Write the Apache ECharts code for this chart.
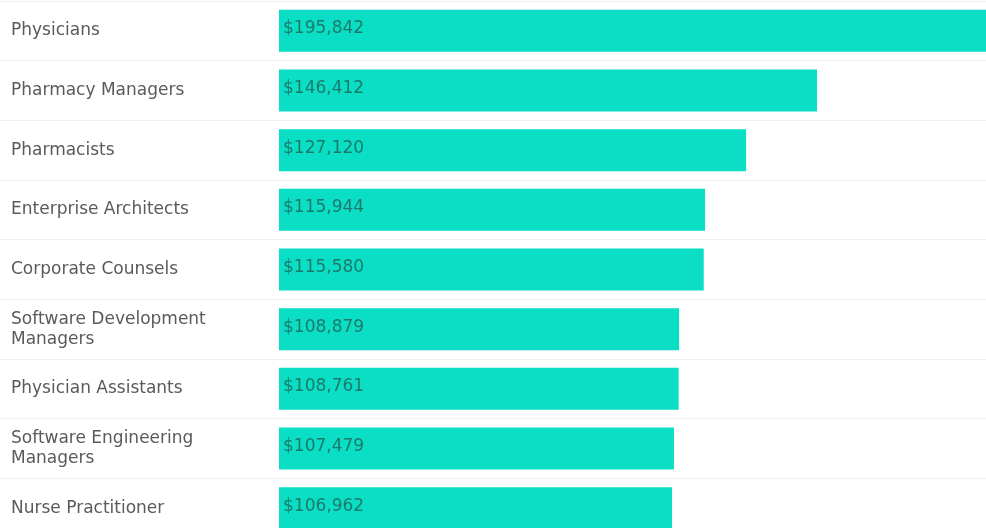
<!DOCTYPE html>
<html>
<head>
<meta charset="utf-8">
<script src="https://cdn.jsdelivr.net/npm/echarts@6/dist/echarts.min.js"></script>
<style>html,body{margin:0;padding:0;background:#fff;}#c{width:986px;height:528px;}</style>
</head>
<body>
<div id="c"></div>
<script>
const categories = ["Physicians","Pharmacy Managers","Pharmacists","Enterprise Architects","Corporate Counsels","Software Development Managers","Physician Assistants","Software Engineering Managers","Nurse Practitioner"];
const salaries = [195842,146412,127120,115944,115580,108879,108761,107479,106962];

const chart = echarts.init(document.getElementById('c'));
const font = 'DejaVu Sans';
chart.setOption({
  animation: false,
  grid: [
    {left: 279, width: 707, top: 1, height: 537, containLabel: false, outerBoundsMode: 'none'},
    {left: 0, width: 986, top: 1, height: 537, containLabel: false, outerBoundsMode: 'none'}
  ],
  xAxis: [
    {gridIndex: 0, type: 'value', min: 0, max: 192400, show: false},
    {gridIndex: 1, type: 'value', min: 0, max: 1, show: false}
  ],
  yAxis: [
    {gridIndex: 0, type: 'category', inverse: true, data: categories,
     axisLine: {show: false}, axisTick: {show: false}, splitLine: {show: false},
     axisLabel: {align: 'left', margin: 268, color: '#5a5a5a', fontFamily: font, fontSize: 17,
       width: 230, overflow: 'break', lineHeight: 20}},
    {gridIndex: 1, type: 'category', inverse: true, data: categories,
     axisLine: {show: false}, axisTick: {show: false}, axisLabel: {show: false},
     splitLine: {show: true, lineStyle: {color: '#f0f0f0', width: 1}}}
  ],
  series: [{
    type: 'bar', xAxisIndex: 0, yAxisIndex: 0, data: salaries, barWidth: 42, clip: true,
    itemStyle: {color: '#0adec5'},
    label: {show: true, position: 'insideLeft', distance: 4, offset: [0, -2],
      color: '#1d7a6b', fontFamily: font, fontSize: 17,
      formatter: p => '$' + p.value.toLocaleString('en-US')}
  }]
});
</script>
</body>
</html>
